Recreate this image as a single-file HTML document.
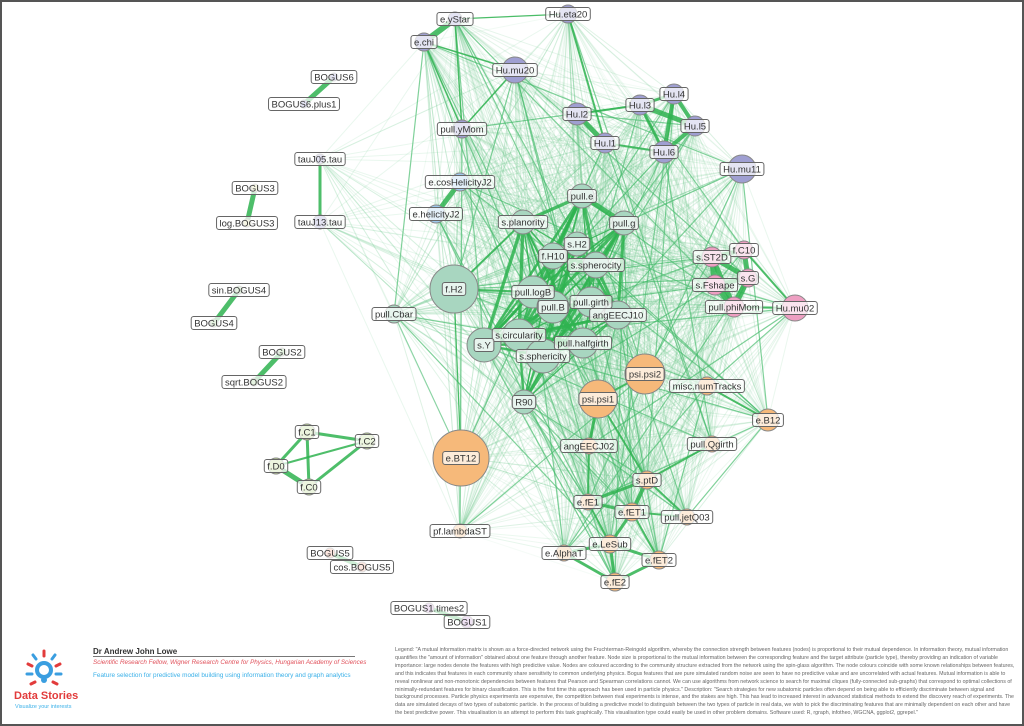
<!DOCTYPE html>
<html><head><meta charset="utf-8">
<style>
html,body{margin:0;padding:0;background:#fff;}
#wrap{position:relative;width:1024px;height:726px;overflow:hidden;box-sizing:border-box;border:2px solid #555;}
svg{position:absolute;left:0;top:0;}
.lbl{font-family:"Liberation Sans",sans-serif;font-size:9.5px;fill:#333;}
.ft{position:absolute;font-family:"Liberation Sans",sans-serif;}
</style></head><body>
<div id="wrap">
<svg id="s" width="1024" height="726" viewBox="0 0 1024 726">
<g id="edges"></g><g id="strong"></g><g id="nodes"></g><g id="labels"></g>
</svg>
<div class="ft" style="left:91px;top:645px;font-size:8px;font-weight:bold;color:#333;width:262px;border-bottom:1px solid #777;">Dr Andrew John Lowe</div>
<div class="ft" style="left:91px;top:657px;font-size:6.3px;font-style:italic;color:#e0505a;">Scientific Research Fellow, Wigner Research Centre for Physics, Hungarian Academy of Sciences</div>
<div class="ft" style="left:91px;top:670px;font-size:6.4px;color:#3ab0e8;">Feature selection for predictive model building using information theory and graph analytics</div>
<div class="ft" style="left:12px;top:688px;font-size:11px;font-weight:bold;color:#e23b3b;">Data Stories</div>
<div class="ft" style="left:13px;top:702px;font-size:5.5px;color:#3ab0e8;">Visualize your interests</div>
<div class="ft" style="left:393px;top:645px;width:620px;font-size:5.3px;line-height:7.9px;color:#666;">Legend: "A mutual information matrix is shown as a force-directed network using the Fruchterman-Reingold algorithm, whereby the connection strength between features (nodes) is proportional to their mutual dependence. In information theory, mutual information quantifies the "amount of information" obtained about one feature through another feature. Node size is proportional to the mutual information between the corresponding feature and the target attribute (particle type), thereby providing an indication of variable importance: large nodes denote the features with high predictive value. Nodes are coloured according to the community structure extracted from the network using the spin-glass algorithm. The node colours coincide with some known relationships between features, and this indicates that features in each community share sensitivity to common underlying physics. Bogus features that are pure simulated random noise are seen to have no predictive value and are uncorrelated with actual features. Mutual information is able to reveal nonlinear and non-monotonic dependencies between features that Pearson and Spearman correlations cannot. We can use algorithms from network science to search for maximal cliques (fully-connected sub-graphs) that correspond to optimal collections of minimally-redundant features for binary classification. This is the first time this approach has been used in particle physics." Description: "Search strategies for new subatomic particles often depend on being able to efficiently discriminate between signal and background processes. Particle physics experiments are expensive, the competition between rival experiments is intense, and the stakes are high. This has lead to increased interest in advanced statistical methods to extend the discovery reach of experiments. The data are simulated decays of two types of subatomic particle. In the process of building a predictive model to distinguish between the two types of particle in real data, we wish to pick the discriminating features that are minimally dependent on each other and have the best predictive power. This visualisation is an attempt to perform this task graphically. This visualisation type could easily be used in other problem domains. Software used: R, rgraph, infotheo, WGCNA, ggplot2, ggrepel."</div>
<svg width="60" height="50" style="position:absolute;left:14px;top:645px" viewBox="0 0 60 50">
<circle cx="28" cy="23" r="7" fill="none" stroke="#3a9ee0" stroke-width="4"/>
<circle cx="28" cy="33" r="3" fill="#3a9ee0"/>
<g stroke-width="3" stroke-linecap="round">
<line x1="28" y1="4" x2="28" y2="9" stroke="#e23b3b"/>
<line x1="17" y1="8" x2="20" y2="12" stroke="#3a9ee0"/>
<line x1="39" y1="8" x2="36" y2="12" stroke="#3a9ee0"/>
<line x1="12" y1="17" x2="16" y2="19" stroke="#e23b3b"/>
<line x1="44" y1="17" x2="40" y2="19" stroke="#e23b3b"/>
<line x1="11" y1="27" x2="16" y2="27" stroke="#3a9ee0"/>
<line x1="45" y1="27" x2="40" y2="27" stroke="#3a9ee0"/>
<line x1="15" y1="37" x2="19" y2="35" stroke="#e23b3b"/>
<line x1="41" y1="37" x2="37" y2="35" stroke="#e23b3b"/>
</g></svg>
</div>
<script>
var P='#9f9fd2',B='#9dc8ec',Y='#e3e3a0',G='#a9d99a',T='#a8d6c0',K='#ee9fc2',O='#f6b97a',L='#bcdc8c',R='#f2a48c',M='#c89ad8';
var N=[
['e.yStar',453,17,7,P,1],['e.chi',422,40,9,P,1],['Hu.eta20',566,12,9,P,1],['Hu.mu20',513,68,13,P,1],
['Hu.l2',575,112,11,P,1],['Hu.l3',638,103,10,P,1],['Hu.l4',672,92,10,P,1],['Hu.l5',693,124,10,P,1],
['Hu.l1',603,141,10,P,1],['Hu.l6',662,150,11,P,1],['Hu.mu11',740,167,14,P,1],['pull.yMom',460,127,9,P,1],
['tauJ05.tau',318,157,5,P,0],['tauJ13.tau',318,220,7,P,0],['BOGUS6',332,75,4,P,0],['BOGUS6.plus1',302,102,4,P,0],
['e.cosHelicityJ2',458,180,9,B,1],['e.helicityJ2',434,212,9,B,1],
['BOGUS3',253,186,4,Y,0],['log.BOGUS3',245,221,4,Y,0],
['sin.BOGUS4',237,288,4,G,0],['BOGUS4',212,321,4,G,0],['BOGUS2',280,350,4,G,0],['sqrt.BOGUS2',252,380,4,G,0],
['pull.e',580,194,12,T,1],['s.planority',521,220,12,T,1],['pull.g',622,221,12,T,1],['s.H2',575,242,12,T,1],
['f.H10',551,254,13,T,1],['s.spherocity',594,263,13,T,1],['f.H2',452,287,24,T,1],['pull.logB',531,290,16,T,1],
['pull.B',551,305,16,T,1],['pull.girth',589,300,15,T,1],['angEECJ10',616,313,14,T,1],['pull.Cbar',392,312,9,T,1],
['s.circularity',517,333,16,T,1],['s.Y',482,343,17,T,1],['pull.halfgirth',581,341,15,T,1],['s.sphericity',541,354,17,T,1],
['R90',522,400,12,T,1],
['s.ST2D',710,255,10,K,1],['f.C10',742,248,9,K,1],['s.G',746,276,9,K,1],['s.Fshape',713,283,10,K,1],
['pull.phiMom',732,305,10,K,1],['Hu.mu02',793,306,13,K,1],
['psi.psi2',643,372,20,O,1],['misc.numTracks',705,384,9,O,1],['psi.psi1',596,397,19,O,1],['e.B12',766,418,11,O,1],
['e.BT12',459,456,28,O,1],['angEECJ02',587,444,8,O,1],['pull.Qgirth',710,442,8,O,1],['s.ptD',645,478,9,O,1],
['e.fE1',586,500,8,O,1],['e.fET1',630,510,9,O,1],['pull.jetQ03',685,515,8,O,1],['pf.lambdaST',458,529,7,O,1],
['e.LeSub',608,542,9,O,1],['e.AlphaT',562,551,8,O,1],['e.fET2',657,558,9,O,1],['e.fE2',613,580,9,O,1],
['f.C1',305,430,8,L,0],['f.C2',365,439,8,L,0],['f.D0',274,464,8,L,0],['f.C0',307,485,8,L,0],
['BOGUS5',328,551,5,R,0],['cos.BOGUS5',360,565,5,R,0],['BOGUS1.times2',427,606,5,M,0],['BOGUS1',465,620,6,M,0]
];
var idx={};N.forEach(function(n,i){idx[n[0]]=i;});
var ns='http://www.w3.org/2000/svg';
function el(t,a,p){var e=document.createElementNS(ns,t);for(var k in a)e.setAttribute(k,a[k]);p.appendChild(e);return e;}
var ge=document.getElementById('edges'),gs=document.getElementById('strong'),gn=document.getElementById('nodes'),gl=document.getElementById('labels');
var seed=7;function rnd(){seed=(seed*9301+49297)%233280;return seed/233280;}
var core=N.filter(function(n){return n[5];});
for(var i=0;i<core.length;i++)for(var j=i+1;j<core.length;j++){
 var a=core[i],b=core[j];var r=rnd();
 var op=0.07+0.2*r;if(r>0.93)op=0.65;
 el('line',{x1:a[1],y1:a[2],x2:b[1],y2:b[2],stroke:r>0.93?'#3cb864':'#6cc78a','stroke-width':r>0.93?1.2:1,'stroke-opacity':op},ge);
}
['tauJ05.tau','tauJ13.tau','pull.Cbar','f.H2','e.BT12','s.Y'].forEach(function(nm){
 var a=N[idx[nm]];for(var k=0;k<25;k++){var b=core[Math.floor(rnd()*core.length)];
 el('line',{x1:a[1],y1:a[2],x2:b[1],y2:b[2],stroke:'#6cc78a','stroke-opacity':0.15},ge);}
});
var S=[['BOGUS6','BOGUS6.plus1',5],['BOGUS3','log.BOGUS3',5],['sin.BOGUS4','BOGUS4',5],['BOGUS2','sqrt.BOGUS2',5],
['BOGUS5','cos.BOGUS5',4],['BOGUS1.times2','BOGUS1',4],['tauJ05.tau','tauJ13.tau',3],['e.yStar','e.chi',6],
['e.cosHelicityJ2','e.helicityJ2',5],['f.C1','f.C2',3],['f.C1','f.D0',3],['f.C1','f.C0',3],['f.C2','f.D0',2],['f.C2','f.C0',3],['f.D0','f.C0',5],
['Hu.l2','Hu.l1',5],['Hu.l3','Hu.l4',3],['Hu.l4','Hu.l5',4],['Hu.l3','Hu.l5',5],['Hu.l4','Hu.l6',4],['Hu.l5','Hu.l6',4],['Hu.l3','Hu.l6',3],['Hu.l1','Hu.l6',2],['Hu.l2','Hu.l3',2],
['Hu.mu20','pull.yMom',1.5],['e.chi','pull.yMom',1.5],['e.yStar','pull.yMom',1.5],['Hu.eta20','Hu.l1',2],['e.chi','Hu.mu20',1.5],['e.yStar','Hu.eta20',1.2],
['pull.e','pull.g',5],['s.ST2D','s.Fshape',6],['s.ST2D','f.C10',4],['s.G','pull.phiMom',6],['s.Fshape','pull.phiMom',6],['s.ST2D','s.G',5],['f.C10','s.G',5],['s.Fshape','s.G',4],['s.ST2D','pull.phiMom',5],['pull.phiMom','Hu.mu02',2],['f.C10','Hu.mu02',2],
['f.H2','e.BT12',1.2],['f.H2','pull.logB',2],['f.H2','s.planority',2],
['s.ptD','e.fE1',3],['s.ptD','e.fET1',4],['e.fE1','e.fET1',3],['e.fET1','e.LeSub',3],['e.fE1','e.LeSub',2],['e.LeSub','e.fET2',3],['e.fET2','e.fE2',3],['e.LeSub','e.fE2',3],['e.AlphaT','e.fE2',3],['e.AlphaT','e.LeSub',3],['e.fET1','pull.jetQ03',2],['s.ptD','pull.jetQ03',2],['e.fET1','e.fET2',2],
['psi.psi1','angEECJ02',3],['psi.psi2','psi.psi1',2],['psi.psi1','s.ptD',2],['angEECJ02','e.fE1',2],['misc.numTracks','e.B12',2],['pull.Qgirth','s.ptD',2]
];
var cl=['s.planority','pull.e','pull.g','s.H2','f.H10','s.spherocity','pull.logB','pull.B','pull.girth','angEECJ10','s.circularity','pull.halfgirth','s.sphericity','s.Y','R90'];
for(var i=0;i<cl.length;i++)for(var j=i+1;j<cl.length;j++){if(rnd()<0.6)S.push([cl[i],cl[j],1+rnd()*2.5]);}
S.forEach(function(s){var a=N[idx[s[0]]],b=N[idx[s[1]]];
 el('line',{x1:a[1],y1:a[2],x2:b[1],y2:b[2],stroke:'#2fb350','stroke-width':s[2],'stroke-opacity':0.85},gs);});
N.forEach(function(n){
 el('circle',{cx:n[1],cy:n[2],r:n[3],fill:n[4],stroke:'#888','stroke-width':1},gn);
});
N.forEach(function(n){
 var g=el('g',{},gl);
 var rc=el('rect',{},g);
 var t=el('text',{x:n[1],y:n[2]+3.4,'text-anchor':'middle','class':'lbl'},g);t.textContent=n[0];
 var w=t.getComputedTextLength?t.getComputedTextLength()+6:n[0].length*5.2+6;
 if(!w||w<8)w=n[0].length*5.2+6;
 var a={x:n[1]-w/2,y:n[2]-6.5,width:w,height:13,rx:2.5,fill:'#fff','fill-opacity':0.72,stroke:'#666','stroke-width':1};
 for(var k in a)rc.setAttribute(k,a[k]);
});
</script>
</body></html>
